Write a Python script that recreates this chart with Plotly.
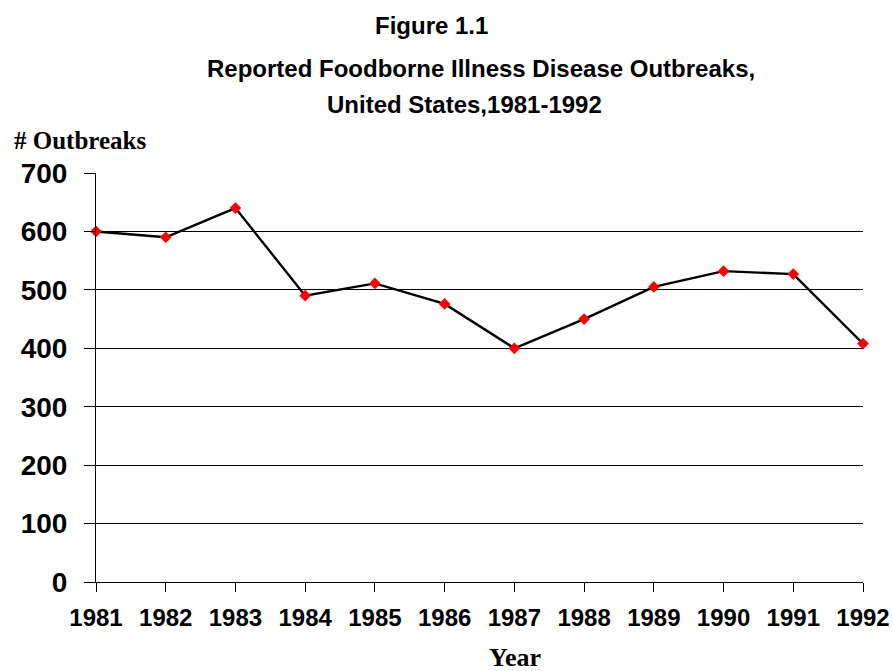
import plotly.graph_objects as go

years = [1981, 1982, 1983, 1984, 1985, 1986, 1987, 1988, 1989, 1990, 1991, 1992]
outbreaks = [600, 590, 640, 490, 511, 476, 400, 450, 505, 532, 527, 408]
y_ticks = [0, 100, 200, 300, 400, 500, 600, 700]

W, H = 893, 671
L, R, T, B = 96, 30, 173, 89
pw, ph = W - L - R, H - T - B

def px(x):
    return (x - L) / pw

def py(y):
    return (H - B - y) / ph

fig = go.Figure()
fig.add_trace(go.Scatter(
    x=years, y=outbreaks, mode="lines+markers",
    line=dict(color="black", width=2.4),
    marker=dict(symbol="diamond", color="#ff0000", size=9),
    cliponaxis=False, showlegend=False,
))

ann_font = dict(family="Liberation Sans, Arial", color="black")
fig.update_layout(
    width=W, height=H,
    margin=dict(l=L, r=R, t=T, b=B, autoexpand=False),
    paper_bgcolor="white", plot_bgcolor="white",
    xaxis=dict(
        range=[1981, 1992], tickvals=years, ticktext=[str(y) for y in years],
        showgrid=False, zeroline=False, showline=True, linecolor="black", linewidth=1,
        ticks="outside", ticklen=9, tickcolor="black", tickwidth=1,
        tickfont=dict(family="Liberation Sans, Arial", size=24, color="black", weight="bold"),
        ticklabelstandoff=5, automargin=False,
    ),
    yaxis=dict(
        range=[0, 700], tickvals=y_ticks,
        showgrid=True, gridcolor="black", gridwidth=1,
        zeroline=False, showline=True, linecolor="black", linewidth=1,
        ticks="outside", ticklen=11, tickcolor="black", tickwidth=1,
        tickfont=dict(family="Liberation Sans, Arial", size=28, color="black", weight="bold"),
        ticklabelstandoff=11, automargin=False,
    ),
    annotations=[
        dict(text="<b>Figure 1.1</b>", x=px(431), y=py(25), xref="paper", yref="paper",
             xanchor="center", yanchor="middle", showarrow=False,
             font=dict(size=24, **ann_font)),
        dict(text="<b>Reported Foodborne Illness Disease Outbreaks,</b>", x=px(481), y=py(69),
             xref="paper", yref="paper", xanchor="center", yanchor="middle", showarrow=False,
             font=dict(size=24, **ann_font)),
        dict(text="<b>United States,1981-1992</b>", x=px(464), y=py(104),
             xref="paper", yref="paper", xanchor="center", yanchor="middle", showarrow=False,
             font=dict(size=24, **ann_font)),
        dict(text="<b># Outbreaks</b>", x=px(12), y=py(140), xref="paper", yref="paper",
             xanchor="left", yanchor="middle", showarrow=False,
             font=dict(size=25, family="Liberation Serif, Times New Roman", color="black")),
        dict(text="<b>Year</b>", x=px(515), y=py(657), xref="paper", yref="paper",
             xanchor="center", yanchor="middle", showarrow=False,
             font=dict(size=26, family="Liberation Serif, Times New Roman", color="black")),
    ],
)

fig.write_html("out.html")
